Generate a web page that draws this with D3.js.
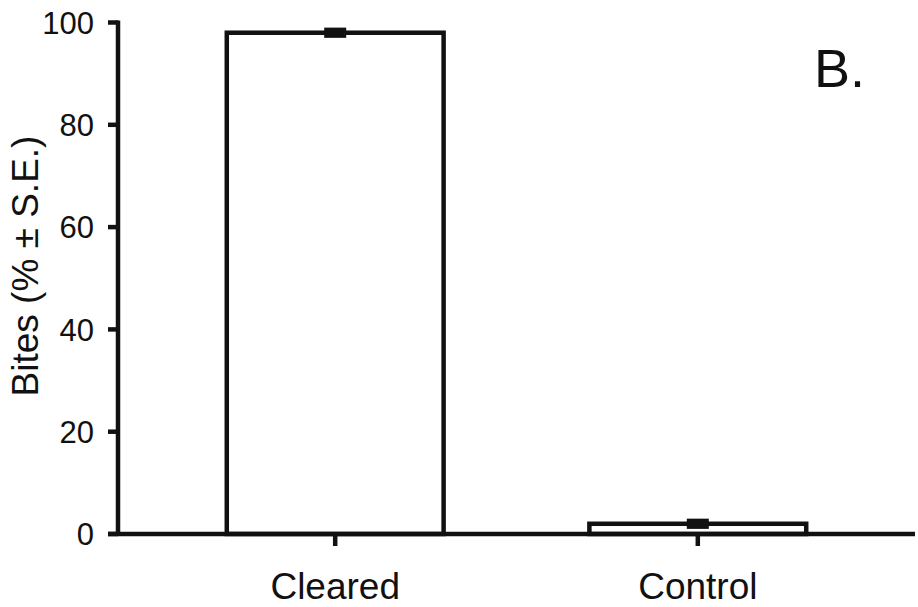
<!DOCTYPE html>
<html>
<head>
<meta charset="utf-8">
<script src="https://cdnjs.cloudflare.com/ajax/libs/d3/7.8.5/d3.min.js"></script>
<style>
  body { margin: 0; background: #fff; }
  svg { display: block; }
  text { font-family: 'Liberation Sans', Arial, sans-serif; fill: #111; }
</style>
</head>
<body>
<svg id="chart" width="918" height="607"></svg>
<script>
const categories = ['Cleared', 'Control']
const means = [98, 2]
const errors = [1, 1]
const yTicks = [0, 20, 40, 60, 80, 100]

const svg = d3.select('#chart')
const axisX = 118
const x0 = 108, x1 = 915
const y = d3.scaleLinear().domain([0, 100]).range([534, 22.5])
const x = d3.scaleBand().domain(categories).range([118, 915]).paddingInner(0.402).paddingOuter(0.3)

// bars
svg.selectAll('rect.bar')
  .data(categories)
  .join('rect')
  .attr('class', 'bar')
  .attr('x', d => x(d))
  .attr('width', x.bandwidth())
  .attr('y', (d, i) => y(means[i]))
  .attr('height', (d, i) => y(0) - y(means[i]))
  .attr('fill', '#fff')
  .attr('stroke', '#111')
  .attr('stroke-width', 4.5)

// error caps (thick, short)
svg.selectAll('rect.err')
  .data(categories)
  .join('rect')
  .attr('class', 'err')
  .attr('x', d => x(d) + x.bandwidth() / 2 - 11)
  .attr('width', 22)
  .attr('y', (d, i) => y(means[i] + errors[i]))
  .attr('height', (d, i) => y(means[i] - errors[i]) - y(means[i] + errors[i]))
  .attr('fill', '#111')

// y axis
svg.append('line')
  .attr('x1', axisX).attr('x2', axisX)
  .attr('y1', y(100) - 2).attr('y2', y(0) + 2)
  .attr('stroke', '#111').attr('stroke-width', 4.5)
svg.selectAll('line.ytick')
  .data(yTicks)
  .join('line')
  .attr('class', 'ytick')
  .attr('x1', 108).attr('x2', axisX)
  .attr('y1', d => y(d)).attr('y2', d => y(d))
  .attr('stroke', '#111').attr('stroke-width', 4.5)
svg.selectAll('text.ylab')
  .data(yTicks)
  .join('text')
  .attr('class', 'ylab')
  .attr('x', 94)
  .attr('y', d => y(d))
  .attr('dy', '0.36em')
  .attr('text-anchor', 'end')
  .attr('font-size', 31)
  .text(d => d)

// x axis
svg.append('line')
  .attr('x1', x0).attr('x2', x1)
  .attr('y1', y(0)).attr('y2', y(0))
  .attr('stroke', '#111').attr('stroke-width', 4.5)
svg.selectAll('line.xtick')
  .data(categories)
  .join('line')
  .attr('class', 'xtick')
  .attr('x1', d => x(d) + x.bandwidth() / 2).attr('x2', d => x(d) + x.bandwidth() / 2)
  .attr('y1', y(0)).attr('y2', y(0) + 12)
  .attr('stroke', '#111').attr('stroke-width', 4.5)
svg.selectAll('text.xlab')
  .data(categories)
  .join('text')
  .attr('class', 'xlab')
  .attr('x', d => x(d) + x.bandwidth() / 2)
  .attr('y', 599)
  .attr('text-anchor', 'middle')
  .attr('font-size', 37)
  .text(d => d)

// y title
svg.append('text')
  .attr('transform', 'translate(38,266) rotate(-90)')
  .attr('text-anchor', 'middle')
  .attr('font-size', 37)
  .text('Bites (% ± S.E.)')

// panel label
svg.append('text')
  .attr('x', 814).attr('y', 87)
  .attr('font-family', "'Open Sans', sans-serif")
  .attr('font-size', 54)
  .text('B.')
</script>
</body>
</html>
